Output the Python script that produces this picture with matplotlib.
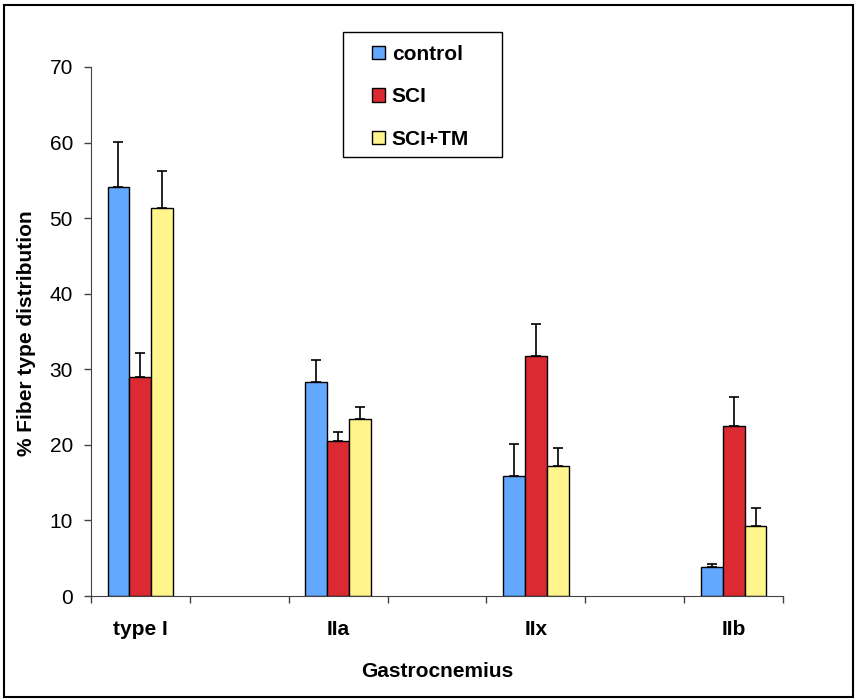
import matplotlib
matplotlib.use("Agg")
import matplotlib.pyplot as plt
from matplotlib.patches import Rectangle
import numpy as np

plt.rcParams['font.family'] = ['Liberation Sans', 'DejaVu Sans']

categories = ["type I", "IIa", "IIx", "IIb"]
series = ["control", "SCI", "SCI+TM"]
control = [54.1, 28.3, 15.9, 3.8]
control_err = [6.0, 2.9, 4.2, 0.4]
sci = [29.0, 20.5, 31.8, 22.5]
sci_err = [3.2, 1.2, 4.2, 3.8]
sci_tm = [51.3, 23.4, 17.2, 9.3]
sci_tm_err = [4.9, 1.6, 2.4, 2.4]
colors = ["#63A8FF", "#DC2A32", "#FFF58C"]

W, H = 857, 700
fig = plt.figure(figsize=(W/100, H/100), dpi=100)
ax = fig.add_axes([91/W, 1-596/H, (783-91)/W, (596-67)/H])

pos = np.array([0, 2, 4, 6])
w = 0.222
offs = [-w, 0, w]
data = [(control, control_err), (sci, sci_err), (sci_tm, sci_tm_err)]
handles = []
for (vals, errs), off, c, name in zip(data, offs, colors, series):
    b = ax.bar(pos + off, vals, width=w, color=c, edgecolor='black', linewidth=1.0, label=name, zorder=2)
    handles.append(b)
    ax.errorbar(pos + off, vals, yerr=[np.zeros(len(errs)), errs], fmt='none', ecolor='black',
                elinewidth=1.2, capsize=3.6, capthick=1.2, zorder=3)

ax.set_xlim(-0.5, 6.5)
ax.set_ylim(0, 70)
ax.set_yticks(np.arange(0, 71, 10))
ax.tick_params(axis='y', direction='out', length=5, width=1, labelsize=15, pad=8, color='#444444')
ax.set_xticks(pos)
ax.set_xticklabels(categories, fontweight='bold', fontsize=15)
ax.set_xticks(np.arange(-0.5, 6.6, 1.0), minor=True)
ax.tick_params(axis='x', which='major', length=0, pad=17)
ax.tick_params(axis='x', which='minor', direction='out', length=5, width=1, color='#444444')
for s in ['top', 'right']:
    ax.spines[s].set_visible(False)
ax.spines['left'].set_color('#444444')
ax.spines['bottom'].set_color('#444444')

fig.text(27/W, 1-333/H, "% Fiber type distribution", rotation=90, ha='center', va='center',
         fontweight='bold', fontsize=15)
fig.text(437/W, 1-677/H, "Gastrocnemius", ha='center', va='baseline',
         fontweight='bold', fontsize=15)

# legend
fig.patches.append(Rectangle((343/W, 1-157/H), (502-343)/W, (157-32)/H,
                             transform=fig.transFigure, fill=False, edgecolor='black', linewidth=1.0))
leg = fig.legend(handles=handles, labels=series, loc='upper left',
                 bbox_to_anchor=(372/W, 1-45/H), frameon=False, borderpad=0, borderaxespad=0,
                 prop={'weight': 'bold', 'size': 15}, labelspacing=1.12, handlelength=0.6,
                 handleheight=0.6, handletextpad=0.35)

# figure border
fig.patches.append(Rectangle((4/W, 3/H), (853-4)/W, (696-4)/H,
                             transform=fig.transFigure, fill=False, edgecolor='black', linewidth=1.5))

fig.savefig("out.png", dpi=100)
